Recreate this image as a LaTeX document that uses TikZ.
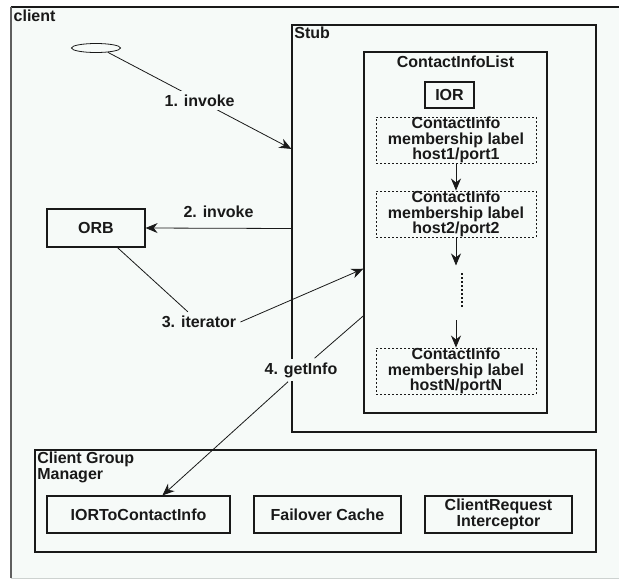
\documentclass[tikz,border=0pt]{standalone}
\usepackage{fontspec}
\setmainfont{Liberation Sans}
\usetikzlibrary{
    arrows.meta,
    calc,
    fit,
    positioning,
    shapes.geometric
}
\definecolor{ink}{RGB}{25,25,25}
\definecolor{paper}{RGB}{246,250,248}
\definecolor{edge}{RGB}{95,95,95}
\definecolor{faint}{RGB}{205,210,208}
\tikzset{
    sized/.style 2 args={
        minimum width=#1*0.75pt,
        minimum height=#2*0.75pt
    },
    component/.style={
        rectangle,
        draw=ink,
        line width=0.9pt,
        inner sep=0pt,
        align=center,
        font=\bfseries\fontsize{12}{11.5}\selectfont,
        text=ink
    },
    contact/.style={
        component,
        line width=0.7pt,
        dash pattern=on 1.5pt off 1.5pt
    },
    paneltitle/.style={
        font=\bfseries\fontsize{12}{11.5}\selectfont,
        text=ink,
        inner sep=2pt,
        align=left
    },
    annot/.style={
        font=\bfseries\fontsize{12}{11.5}\selectfont,
        text=ink,
        fill=paper,
        inner sep=3pt
    },
    invocation/.style={
        -{Stealth[length=9pt,width=7.5pt]},
        draw=ink,
        line width=0.6pt
    },
    plainlink/.style={
        draw=ink,
        line width=0.6pt
    }
}

\begin{document}
\begin{tikzpicture}[x=0.75pt, y=-0.75pt]
\useasboundingbox (0,0) rectangle (619,579);

% client frame
\node[fit={(11,7) (619,578)}, inner sep=0pt, fill=paper] (client) {};
\draw[ink, line width=1.2pt] (client.north west) -- (client.north east);
\draw[edge, line width=1.2pt] (client.north west) -- (client.south west);
\draw[faint, line width=0.8pt] (client.south west) -- (client.south east);
\node[paneltitle, anchor=north west] at (client.north west) {client};

% stub with its contact list
\node[component, fit={(292,25) (596,432)}] (stub) {};
\node[paneltitle, anchor=north west] at (stub.north west) {Stub};

\node[component, fit={(364,52) (547,413)}] (cil) {};
\node[paneltitle, anchor=center] at ($(cil.north)+(0,10)$) {ContactInfoList};
\node[component, sized={49}{26}] (ior) at (449.5,95) {IOR};
\node[contact, sized={160}{46}] (ci1) at (456,140) {ContactInfo\\membership label\\host1/port1};
\node[contact, sized={160}{46}] (ci2) at (456,214) {ContactInfo\\membership label\\host2/port2};
\node[contact, sized={160}{46}] (ciN) at (456,371) {ContactInfo\\membership label\\hostN/portN};

\coordinate (gapA) at ($(ci2.south)+(0,28)$);
\coordinate (dotA) at ($(ci2.south)+(6,36)$);
\coordinate (dotB) at ($(ci2.south)+(6,71)$);
\coordinate (gapB) at ($(ci2.south)+(0,83)$);
\draw[invocation] (ci1) -- (ci2);
\draw[invocation] (ci2) -- (gapA);
\draw[plainlink, line width=0.8pt, dash pattern=on 1.5pt off 1.5pt] (dotA) -- (dotB);
\draw[invocation] (gapB) -- (ciN);

% caller side
\node[ellipse, draw=ink, line width=0.6pt, sized={49}{9}, inner sep=0pt] (caller) at (96,48) {};
\node[component, sized={98}{38}] (orb) at (96,228) {ORB};

% client group manager
\node[component, fit={(35,450) (596,552)}] (cgm) {};
\node[paneltitle, anchor=north west] at (cgm.north west) {Client Group\\Manager};
\node[component, sized={183}{37}] (i2c) at (138.5,514.5) {IORToContactInfo};
\node[component, sized={147}{37}] (cache) at (327.5,514.5) {Failover Cache};
\node[component, sized={147}{37}] (cri) at (498.5,514.5) {ClientRequest\\Interceptor};

% calls
\draw[invocation] (caller.-20) -- node[annot] {1. invoke}
    ($(stub.north west)!0.305!(stub.south west)$);
\draw[invocation] (stub.west) -- node[annot, fill=none, above=5pt] {2. invoke} (orb.east);

\node[annot] (iter) at (199,322) {3. iterator};
\draw[plainlink] (orb) -- (iter);
\draw[invocation] (iter.east) -- ($(cil.north west)!0.6!(cil.south west)$);

\node[annot] (getinfo) at (301,370) {4. getInfo};
\draw[plainlink] ($(cil.north west)!0.73!(cil.south west)$) -- (getinfo);
\draw[invocation] (getinfo) -- ($(i2c.north west)!0.63!(i2c.north east)$);
\end{tikzpicture}
\end{document}
